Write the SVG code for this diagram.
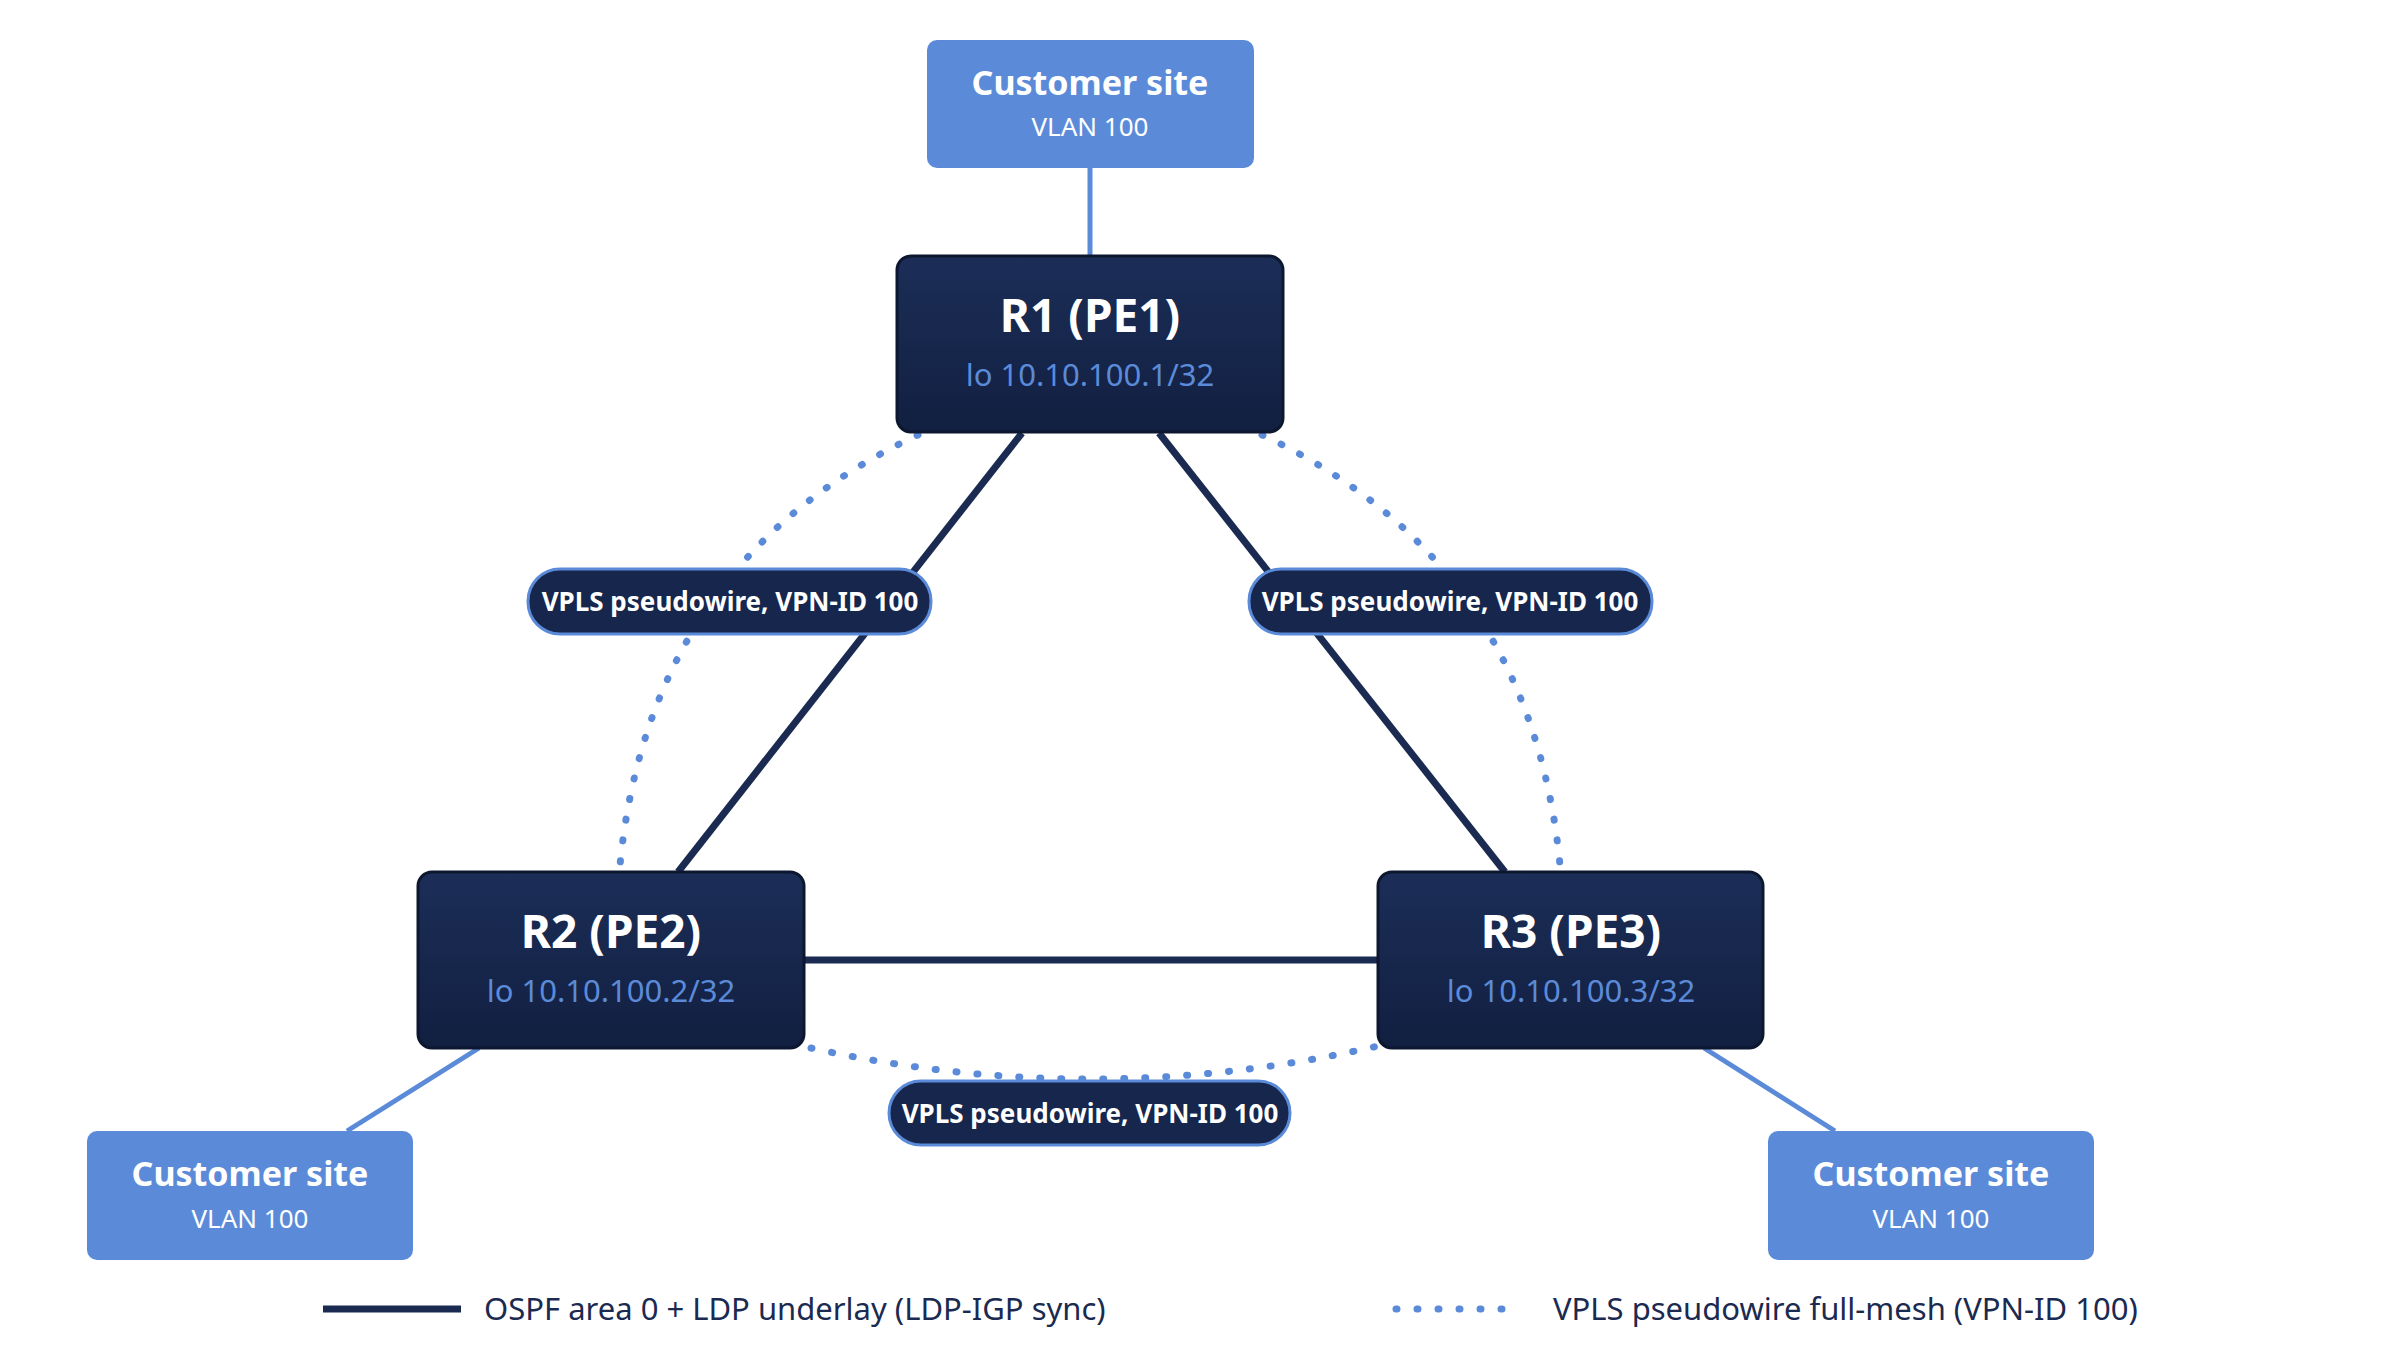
<svg xmlns="http://www.w3.org/2000/svg" width="2400" height="1354" viewBox="0 0 2400 1354">
<defs>
<linearGradient id="pg" x1="0" y1="0" x2="0" y2="1"><stop offset="0" stop-color="#1c2e58"/><stop offset="1" stop-color="#111f40"/></linearGradient>
<style>
.pe{fill:url(#pg);stroke:#0d1830;stroke-width:3}
.cs{fill:#5b8bd8}
.t{font-family:"Noto Sans","Open Sans",sans-serif;text-anchor:middle}
.pt{fill:#fff;font-weight:bold;font-size:46px}
.lo{fill:#5b8bd8;font-size:31px}
.ct{fill:#fff;font-weight:bold;font-size:34px}
.cv{fill:#fff;font-size:26px}
.pill{fill:#16264c;stroke:#5b8bd8;stroke-width:3}
.pl{fill:#fff;font-weight:bold;font-size:26px}
.solid{stroke:#1b2a50;stroke-width:7;fill:none}
.dot{stroke:#5b8bd8;stroke-width:7;fill:none;stroke-linecap:round;stroke-dasharray:1 20}
.acc{stroke:#5b8bd8;stroke-width:5;fill:none}
.lg{font-family:"Noto Sans","Open Sans",sans-serif;font-size:31px;fill:#1b2a50}
</style>
</defs>
<rect width="2400" height="1354" fill="#fff"/>
<g id="connectors">
<line class="acc" x1="1090" y1="168" x2="1090" y2="256"/>
<line class="acc" x1="479" y1="1048" x2="347" y2="1131"/>
<line class="acc" x1="1704" y1="1048" x2="1835" y2="1131"/>
<line class="solid" x1="1022" y1="433" x2="678" y2="872"/>
<line class="solid" x1="1159" y1="433" x2="1505" y2="872"/>
<line class="solid" x1="804" y1="960" x2="1378" y2="960"/>
<path class="dot" d="M918 435 Q650 560 620 865"/>
<path class="dot" d="M1262 435 Q1530 560 1560 865"/>
<path class="dot" d="M811 1048 Q1095 1111 1378 1046"/>
</g>
<g id="pw1"><rect class="pill" x="528" y="569" width="403" height="65" rx="32"/><text class="t pl" x="730" y="611">VPLS pseudowire, VPN-ID 100</text></g>
<g id="pw2"><rect class="pill" x="1249" y="569" width="403" height="65" rx="32"/><text class="t pl" x="1450" y="611">VPLS pseudowire, VPN-ID 100</text></g>
<g id="pw3"><rect class="pill" x="889" y="1081" width="401" height="64" rx="32"/><text class="t pl" x="1090" y="1123">VPLS pseudowire, VPN-ID 100</text></g>
<g id="R1"><rect class="pe" x="897" y="256" width="386" height="176" rx="14"/><text class="t pt" x="1090" y="332">R1 (PE1)</text><text class="t lo" x="1090" y="386">lo 10.10.100.1/32</text></g>
<g id="R2"><rect class="pe" x="418" y="872" width="386" height="176" rx="14"/><text class="t pt" x="611" y="948">R2 (PE2)</text><text class="t lo" x="611" y="1002">lo 10.10.100.2/32</text></g>
<g id="R3"><rect class="pe" x="1378" y="872" width="385" height="176" rx="14"/><text class="t pt" x="1571" y="948">R3 (PE3)</text><text class="t lo" x="1571" y="1002">lo 10.10.100.3/32</text></g>
<g id="CS1"><rect class="cs" x="927" y="40" width="327" height="128" rx="10"/><text class="t ct" x="1090" y="95">Customer site</text><text class="t cv" x="1090" y="136">VLAN 100</text></g>
<g id="CS2"><rect class="cs" x="87" y="1131" width="326" height="129" rx="10"/><text class="t ct" x="250" y="1186">Customer site</text><text class="t cv" x="250" y="1228">VLAN 100</text></g>
<g id="CS3"><rect class="cs" x="1768" y="1131" width="326" height="129" rx="10"/><text class="t ct" x="1931" y="1186">Customer site</text><text class="t cv" x="1931" y="1228">VLAN 100</text></g>
<g id="legend">
<line class="solid" x1="323" y1="1309" x2="461" y2="1309"/>
<text class="lg" x="484" y="1320">OSPF area 0 + LDP underlay (LDP-IGP sync)</text>
<line class="dot" x1="1396" y1="1309" x2="1508" y2="1309"/>
<text class="lg" x="1553" y="1320">VPLS pseudowire full-mesh (VPN-ID 100)</text>
</g>
</svg>
